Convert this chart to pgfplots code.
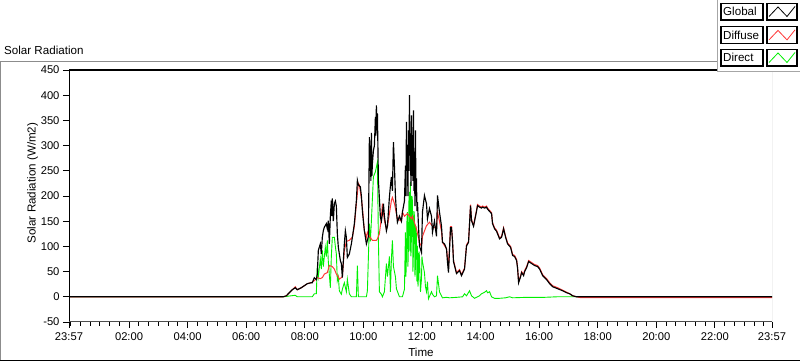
\documentclass[border=0pt]{standalone}
\usepackage{fontspec}
\setmainfont{Liberation Sans}
\usepackage{pgfplots}
\usepackage{pgfplotstable}
\pgfplotsset{compat=1.18}
\definecolor{dgreen}{RGB}{0,240,0}
\definecolor{dred}{RGB}{255,55,55}
\newcommand{\lf}{\fontsize{11.6bp}{13bp}\selectfont}
\newcommand{\tf}{\fontsize{11.2bp}{13bp}\selectfont}

\pgfplotstableread{
t v
-0.05 0
7.265 0
7.368 2
7.470 8
7.573 14
7.675 18
7.744 14
7.880 18
7.983 22
8.085 26
8.222 28
8.256 28
8.325 38
8.393 34
8.427 45
8.462 92
8.530 105
8.564 85
8.598 118
8.632 131
8.667 138
8.735 145
8.769 135
8.803 151
8.838 105
8.872 160
8.906 191
8.923 160
8.940 195
8.974 150
9.009 185
9.043 190
9.077 180
9.111 125
9.145 98
9.214 72
9.248 66
9.282 38
9.350 105
9.385 131
9.419 118
9.453 78
9.521 85
9.590 105
9.624 118
9.692 145
9.761 191
9.795 231
9.829 222
9.897 218
9.932 200
9.966 171
10.000 150
10.034 131
10.103 105
10.137 112
10.171 120
10.205 317
10.222 250
10.239 300
10.256 230
10.274 325
10.291 240
10.308 265
10.342 290
10.376 300
10.410 357
10.427 320
10.444 380
10.461 330
10.479 364
10.513 231
10.581 158
10.615 150
10.650 165
10.684 185
10.718 160
10.786 131
10.821 140
10.889 198
10.923 220
10.957 238
10.991 210
11.026 307
11.060 260
11.094 200
11.128 168
11.162 148
11.231 160
11.299 150
11.333 168
11.402 190
11.436 260
11.453 200
11.470 347
11.487 250
11.504 287
11.521 200
11.538 330
11.555 250
11.573 400
11.590 280
11.607 300
11.624 220
11.641 360
11.658 240
11.675 321
11.692 230
11.709 370
11.726 210
11.744 267
11.761 180
11.778 330
11.795 200
11.812 235
11.829 170
11.846 188
11.881 140
11.915 101
11.983 88
12.017 168
12.085 201
12.154 185
12.188 155
12.256 175
12.325 160
12.359 128
12.427 150
12.496 120
12.530 201
12.598 168
12.667 140
12.701 108
12.769 105
12.838 95
12.872 68
12.906 48
12.974 137
13.009 137
13.043 110
13.077 70
13.179 46
13.282 52
13.350 42
13.453 55
13.521 101
13.590 108
13.658 181
13.692 151
13.761 140
13.863 170
13.897 181
13.966 178
14.034 176
14.068 178
14.137 176
14.205 178
14.239 174
14.376 165
14.410 145
14.479 135
14.547 130
14.650 115
14.718 118
14.786 135
14.855 118
14.923 105
15.026 98
15.094 82
15.162 80
15.231 72
15.265 56
15.299 28
15.368 40
15.402 48
15.470 42
15.504 50
15.573 58
15.641 70
15.744 66
15.846 62
15.949 60
16.017 55
16.120 42
16.256 34
16.359 26
16.462 20
16.633 16
16.803 12
16.940 8
17.043 6
17.145 2
17.282 0
23.95 0
}\globaltbl

\pgfplotstableread{
t v
-0.05 0
7.265 0
7.368 2
7.470 8
7.573 14
7.675 20
7.744 14
7.880 18
7.983 22
8.085 26
8.222 28
8.325 32
8.427 38
8.530 36
8.598 38
8.667 45
8.769 48
8.838 62
8.940 60
9.009 55
9.077 45
9.145 40
9.179 35
9.248 38
9.282 40
9.350 92
9.419 110
9.521 112
9.624 118
9.692 140
9.761 185
9.829 225
9.863 222
9.932 195
9.966 178
10.034 131
10.103 118
10.137 128
10.205 120
10.308 112
10.444 112
10.479 115
10.547 125
10.615 158
10.650 185
10.718 151
10.786 135
10.821 140
10.889 165
10.957 191
10.991 197
11.060 185
11.128 165
11.162 155
11.299 150
11.333 168
11.402 160
11.504 165
11.641 155
11.675 160
11.812 135
11.915 108
11.983 100
12.017 120
12.154 141
12.256 148
12.359 140
12.496 135
12.530 168
12.598 150
12.667 130
12.701 108
12.838 95
12.906 60
12.974 139
13.009 139
13.043 112
13.077 72
13.179 48
13.282 54
13.350 44
13.453 57
13.521 103
13.590 110
13.658 183
13.692 153
13.761 142
13.863 172
13.897 183
13.966 180
14.034 178
14.068 180
14.137 178
14.205 180
14.239 176
14.376 167
14.410 147
14.479 137
14.547 132
14.650 117
14.718 120
14.786 137
14.855 120
14.923 107
15.026 100
15.094 84
15.162 82
15.231 74
15.265 58
15.299 30
15.368 42
15.402 50
15.470 44
15.504 52
15.573 60
15.641 72
15.744 68
15.846 64
15.949 62
16.017 57
16.120 44
16.256 36
16.359 28
16.462 22
16.633 18
16.803 13
16.940 9
17.043 6
17.145 2
17.282 0
17.400 -1.5
23.95 -1.5
}\diffusetbl

\pgfplotstableread{
t v
-0.05 0
7.265 0
7.675 3
7.744 0
8.256 0
8.325 6
8.393 6
8.427 62
8.462 40
8.530 75
8.564 55
8.598 92
8.632 60
8.700 98
8.735 80
8.769 112
8.803 70
8.872 18
8.906 80
8.940 118
9.009 118
9.043 100
9.077 85
9.111 32
9.145 40
9.179 12
9.248 5
9.282 15
9.350 28
9.419 10
9.453 35
9.521 6
9.590 0
9.761 0
9.795 62
9.829 0
10.103 0
10.137 12
10.205 145
10.239 110
10.274 151
10.342 238
10.410 248
10.479 267
10.513 112
10.547 10
10.615 5
10.650 0
10.718 10
10.786 66
10.821 40
10.889 80
10.923 10
10.957 75
10.991 112
11.026 60
11.094 40
11.128 16
11.231 0
11.333 0
11.402 15
11.436 128
11.453 40
11.470 80
11.487 150
11.504 168
11.521 60
11.538 100
11.555 190
11.573 208
11.590 90
11.607 228
11.624 80
11.641 120
11.658 200
11.675 190
11.692 50
11.709 90
11.726 170
11.744 160
11.761 40
11.778 60
11.795 140
11.812 120
11.829 30
11.846 101
11.864 20
11.881 40
11.898 90
11.915 80
11.949 10
11.983 35
12.000 80
12.017 70
12.085 48
12.120 20
12.154 10
12.188 30
12.222 -4
12.325 10
12.359 5
12.427 0
12.496 2
12.530 42
12.598 10
12.667 2
12.701 -2
12.838 -1
12.940 -2
13.200 -1
13.385 0
13.453 6
13.521 2
13.624 12
13.692 2
13.795 -3
13.897 0
13.966 2
14.034 6
14.137 9
14.205 12
14.239 8
14.308 10
14.376 0
14.479 -3
14.650 -3
14.855 -2
14.991 0
15.094 -2
15.600 -1
16.200 -1
16.600 0
17.282 0
23.95 0
}\directtbl

\begin{document}
\begin{tikzpicture}
\path[use as bounding box] (0bp,0bp) rectangle (800bp,361bp);
% outer frame
\draw[black!45, line width=1bp] (0.5bp,0bp) -- (0.5bp,299.5bp) -- (800bp,299.5bp);
\draw[black, line width=1.5bp] (0bp,0.75bp) -- (800bp,0.75bp);
\node[anchor=base west, inner sep=0pt, font=\lf] at (4bp,306bp) {Solar Radiation};
\node[rotate=90, inner sep=0pt, font=\lf] at (32.7bp,178bp) {Solar Radiation (W/m2)};
\node[inner sep=0pt, font=\lf] at (421bp,9bp) {Time};
\begin{axis}[
  at={(69bp,39bp)}, anchor=south west,
  scale only axis, width=703bp, height=252bp,
  xmin=-0.05, xmax=23.95, ymin=-50, ymax=450,
  axis line style={draw=none},
  tick align=outside, xtick pos=bottom, ytick pos=left,
  xtick={-0.05,2,4,6,8,10,12,14,16,18,20,22,23.95},
  xticklabels={23:57,02:00,04:00,06:00,08:00,10:00,12:00,14:00,16:00,18:00,20:00,22:00,23:57},
  minor xtick={0,0.33333,...,23.9},
  ytick={-50,0,50,100,150,200,250,300,350,400,450},
  yticklabels={-50,0,50,100,150,200,250,300,350,400,450},
  major tick length=6bp, minor tick length=4bp,
  every tick/.style={black, line width=0.8bp},
  tick label style={font=\tf},
  xticklabel style={yshift=-1bp},
  clip=true,
]
\addplot[dgreen, line width=0.9bp] table[x=t,y=v] {\directtbl};
\addplot[dred, line width=1bp] table[x=t,y=v] {\diffusetbl};
\addplot[black, line width=1.15bp] table[x=t,y=v] {\globaltbl};
\draw[black, line width=1.2bp] (rel axis cs:0,0) -- (rel axis cs:0,1) -- (rel axis cs:1,1);
\draw[black!40, line width=1bp] (rel axis cs:1,1) -- (rel axis cs:1,0);
\draw[black!70, line width=1bp] (rel axis cs:0,0) -- (rel axis cs:1,0);
\end{axis}
% legend panel
\fill[white] (717bp,289bp) rectangle (800bp,361bp);
\draw[black!35, line width=1bp] (717.5bp,361bp) -- (717.5bp,289.5bp) -- (800bp,289.5bp);
\foreach \name/\col/\sh in {Global/black/0, Diffuse/dred/23.4, Direct/dgreen/46} {
  \draw[black, line width=1.2bp, fill=white] (721bp,341bp-\sh bp) rectangle (763bp,357.7bp-\sh bp);
  \node[anchor=west, inner sep=0pt, font=\lf] at (723bp,349.3bp-\sh bp) {\name};
  \draw[black, line width=1.2bp, fill=white] (767bp,341bp-\sh bp) rectangle (797bp,357.7bp-\sh bp);
  \draw[\col, line width=0.8bp] (769bp,344.5bp-\sh bp) -- (778bp,354bp-\sh bp) -- (787bp,344.5bp-\sh bp) -- (795bp,354.5bp-\sh bp);
}
\end{tikzpicture}
\end{document}
